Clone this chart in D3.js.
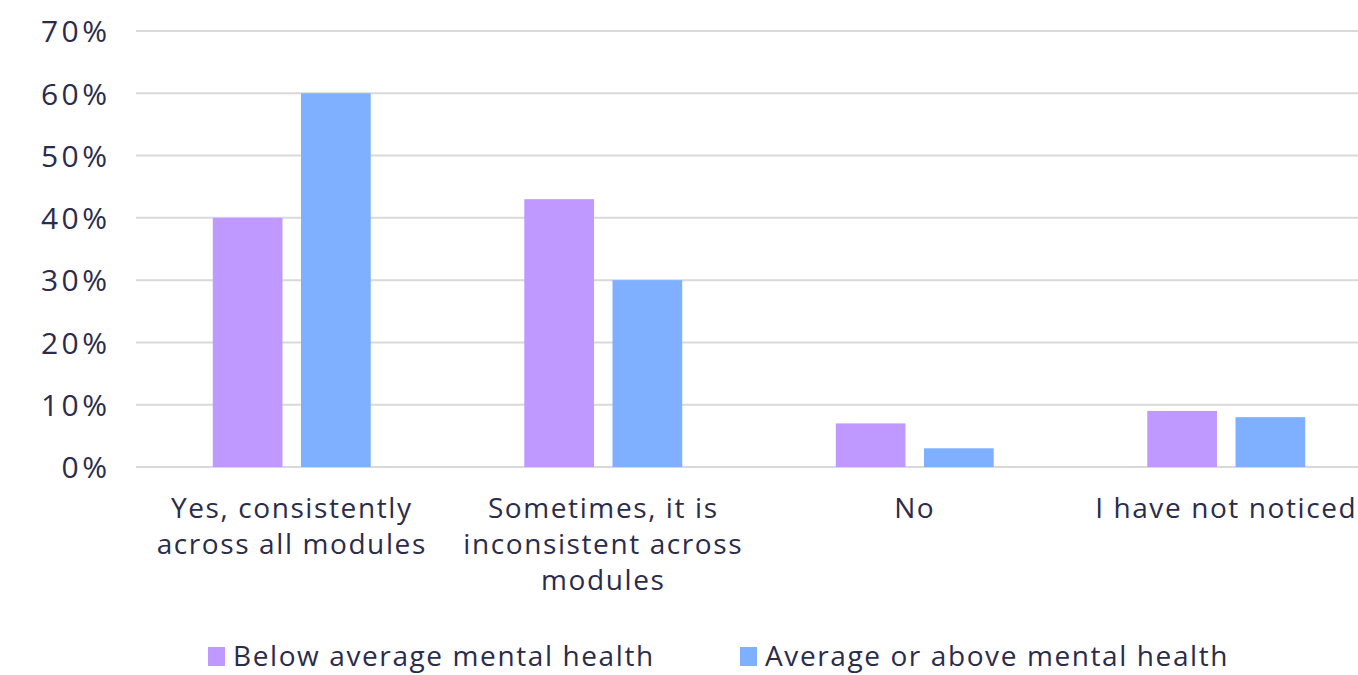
<!DOCTYPE html>
<html>
<head>
<meta charset="utf-8">
<script src="https://cdn.jsdelivr.net/npm/d3@7"></script>
<style>
  body { margin: 0; background: #fff; }
  text { font-family: "Open Sans", Lato, sans-serif; fill: #2b2c4a; }
</style>
</head>
<body>
<div></div>
<script>
var width = 1358,
    height = 675;

// data
var categories = ["Yes, consistently across all modules", "Sometimes, it is inconsistent across modules", "No", "I have not noticed"];
var categoryLines = [["Yes, consistently", "across all modules"], ["Sometimes, it is", "inconsistent across", "modules"], ["No"], ["I have not noticed"]];
var seriesNames = ["Below average mental health", "Average or above mental health"];
var belowAvg = [0.40, 0.43, 0.07, 0.09];
var aboveAvg = [0.60, 0.30, 0.03, 0.08];
var yTicks = [0, 0.1, 0.2, 0.3, 0.4, 0.5, 0.6, 0.7];
var colors = ["#bf99ff", "#7eb0ff"];

var svg = d3.select("div")
    .append("svg")
    .attr("width", width)
    .attr("height", height);

var x0 = d3.scaleBand()
    .domain(categories)
    .range([136, 1382])
    .paddingInner(0.493)
    .paddingOuter(0.2465);

var x1 = d3.scaleBand()
    .domain(seriesNames)
    .range([0, x0.bandwidth()])
    .paddingInner(0.21);

var y = d3.scaleLinear()
    .domain([0, 0.7])
    .range([467, 31]);

// gridlines
svg.append("g")
    .selectAll("line")
    .data(yTicks)
    .enter()
    .append("line")
    .attr("x1", 136)
    .attr("x2", width)
    .attr("y1", function (d) { return y(d); })
    .attr("y2", function (d) { return y(d); })
    .attr("stroke", "#d9d9d9")
    .attr("stroke-width", 2);

// y axis labels
var yAxis = d3.axisLeft(y)
    .tickValues(yTicks)
    .tickFormat(d3.format(".0%"))
    .tickSize(0)
    .tickPadding(0);

svg.append("g")
    .attr("transform", "translate(110.5,0)")
    .call(yAxis)
    .call(function (g) { g.select(".domain").remove(); })
    .selectAll("text")
    .attr("font-size", 30)
    .attr("letter-spacing", 3.5)
    .attr("dy", "0.36em");

// bars
var rows = categories.map(function (c, i) {
    return { cat: c, values: [belowAvg[i], aboveAvg[i]] };
});

var groups = svg.append("g")
    .selectAll("g")
    .data(rows)
    .enter()
    .append("g")
    .attr("transform", function (d) { return "translate(" + x0(d.cat) + ",0)"; });

groups.selectAll("rect")
    .data(function (d) {
        return d.values.map(function (v, j) { return { key: seriesNames[j], value: v, i: j }; });
    })
    .enter()
    .append("rect")
    .attr("x", function (d) { return x1(d.key); })
    .attr("y", function (d) { return y(d.value); })
    .attr("width", x1.bandwidth())
    .attr("height", function (d) { return y(0) - y(d.value); })
    .style("fill", function (d) { return colors[d.i]; });

// category labels
var labels = svg.append("g")
    .selectAll("text")
    .data(categories)
    .enter()
    .append("text")
    .attr("text-anchor", "middle")
    .attr("font-size", 28)
    .attr("letter-spacing", 1.6)
    .attr("x", function (d) { return x0(d) + x0.bandwidth() / 2; })
    .attr("y", 518);

labels.selectAll("tspan")
    .data(function (d, i) { return categoryLines[i]; })
    .enter()
    .append("tspan")
    .attr("x", function () { return d3.select(this.parentNode).attr("x"); })
    .attr("dy", function (d, i) { return i === 0 ? 0 : 36; })
    .text(function (d) { return d; });

// legend
var legendX = [208, 740];
var legend = svg.append("g")
    .selectAll("g")
    .data(seriesNames)
    .enter()
    .append("g")
    .attr("transform", function (d, i) { return "translate(" + legendX[i] + ",647)"; });

legend.append("rect")
    .attr("width", 17)
    .attr("height", 19)
    .style("fill", function (d, i) { return colors[i]; });

legend.append("text")
    .attr("x", 25)
    .attr("y", 19)
    .attr("font-size", 28)
    .attr("letter-spacing", 1.6)
    .text(function (d) { return d; });
</script>
</body>
</html>
